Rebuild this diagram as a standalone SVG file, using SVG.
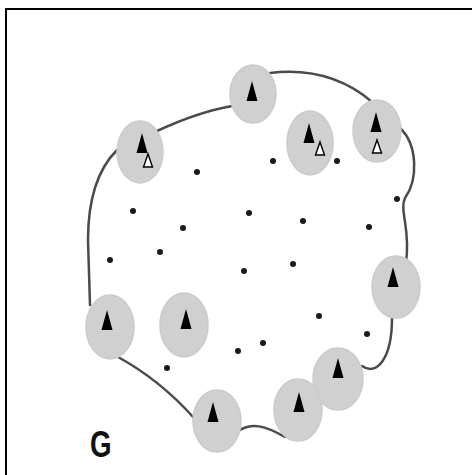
<svg xmlns="http://www.w3.org/2000/svg" width="472" height="475" viewBox="0 0 472 475">
<style>
.bg{fill:#ffffff}
.frame{fill:none;stroke:#000;stroke-width:2}
.zone{fill:#d0d0d0;stroke:#cbcbcb;stroke-width:1.5}
.edge{fill:none;stroke:#4a4a4a;stroke-width:2.5;stroke-linecap:round}
.dot{fill:#1a1a1a}
.lbl{font-family:"Liberation Sans",Arial,sans-serif;font-weight:bold;font-size:37px;fill:#111}
</style>
<defs>
<path id="tf" d="M0,-20 L5.5,0 L-5.5,0 Z" fill="#000"/>
<path id="to" d="M0,-13 L4.5,0 L-4.5,0 Z" fill="#fff" stroke="#000" stroke-width="1.4"/>
</defs>
<rect class="bg" x="0" y="0" width="472" height="475"/>
<path class="frame" d="M6,475 L6,9 L472,9"/>
<g id="connectors">
<path class="edge" d="M270,73 Q330,66 372,102"/>
<path class="edge" d="M232,106 Q198,112 157,131"/>
<path class="edge" d="M117,150 C97,170 88,200 88,240 L90,305"/>
<path class="edge" d="M118,357 Q160,380 194,418"/>
<path class="edge" d="M240,430 C252,423 264,425 285,437"/>
<path class="edge" d="M362,366 C376,376 392,360 392,318"/>
<path class="edge" d="M400,128 C418,145 418,180 405,198 C399,210 411,230 406,262"/>
</g>
<g id="site-top"><ellipse class="zone" cx="253" cy="94" rx="23" ry="29"/><use href="#tf" x="252" y="101"/></g>
<g id="site-upper-left"><ellipse class="zone" cx="140" cy="152" rx="23" ry="31"/><use href="#tf" x="142" y="153"/><use href="#to" x="148" y="167"/></g>
<g id="site-middle"><ellipse class="zone" cx="310" cy="143" rx="23" ry="32"/><use href="#tf" x="309" y="143"/><use href="#to" x="320" y="155"/></g>
<g id="site-upper-right"><ellipse class="zone" cx="377" cy="131" rx="24" ry="31"/><use href="#tf" x="376" y="132"/><use href="#to" x="377" y="153"/></g>
<g id="site-right"><ellipse class="zone" cx="396" cy="287" rx="24" ry="31"/><use href="#tf" x="393" y="287"/></g>
<g id="site-left"><ellipse class="zone" cx="110" cy="327" rx="24" ry="32"/><use href="#tf" x="107" y="330"/></g>
<g id="site-inner"><ellipse class="zone" cx="184" cy="325" rx="24" ry="32"/><use href="#tf" x="186" y="329"/></g>
<g id="site-bottom"><ellipse class="zone" cx="217" cy="421" rx="24" ry="31"/><use href="#tf" x="213" y="422"/></g>
<g id="site-bottom-right"><ellipse class="zone" cx="338" cy="379" rx="25" ry="31"/><use href="#tf" x="338" y="378"/></g>
<g id="site-bottom-mid"><ellipse class="zone" cx="298" cy="410" rx="24" ry="31"/><use href="#tf" x="299" y="412"/></g>
<g id="points">
<circle class="dot" cx="197" cy="172" r="3"/>
<circle class="dot" cx="273" cy="161" r="3"/>
<circle class="dot" cx="337" cy="161" r="3"/>
<circle class="dot" cx="133" cy="211" r="3"/>
<circle class="dot" cx="183" cy="228" r="3"/>
<circle class="dot" cx="249" cy="213" r="3"/>
<circle class="dot" cx="303" cy="221" r="3"/>
<circle class="dot" cx="397" cy="199" r="3"/>
<circle class="dot" cx="369" cy="227" r="3"/>
<circle class="dot" cx="110" cy="260" r="3"/>
<circle class="dot" cx="160" cy="252" r="3"/>
<circle class="dot" cx="244" cy="271" r="3"/>
<circle class="dot" cx="293" cy="264" r="3"/>
<circle class="dot" cx="319" cy="316" r="3"/>
<circle class="dot" cx="367" cy="334" r="3"/>
<circle class="dot" cx="238" cy="351" r="3"/>
<circle class="dot" cx="263" cy="343" r="3"/>
<circle class="dot" cx="167" cy="368" r="3"/>
</g>
<text class="lbl" transform="translate(90,457) scale(0.75,1)">G</text>
</svg>
